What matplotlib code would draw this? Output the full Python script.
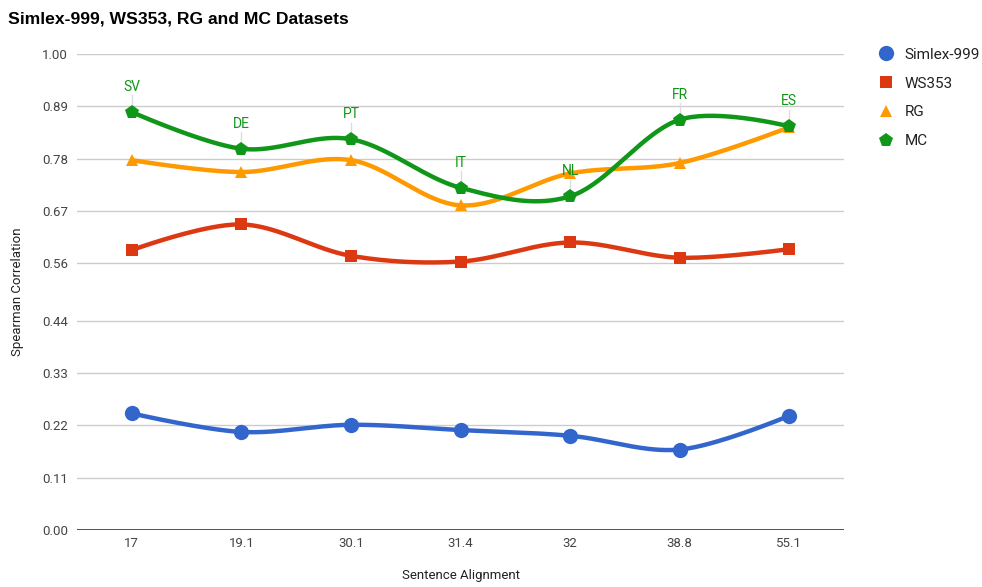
import numpy as np
import matplotlib
matplotlib.use("Agg")
import matplotlib.pyplot as plt
from matplotlib.lines import Line2D

plt.rcParams['font.family'] = ['Roboto', 'DejaVu Sans']

# Data
alignment = ["17", "19.1", "30.1", "31.4", "32", "38.8", "55.1"]
languages = ["SV", "DE", "PT", "IT", "NL", "FR", "ES"]
simlex = [0.245, 0.206, 0.221, 0.210, 0.198, 0.169, 0.240]
ws353 = [0.588, 0.642, 0.576, 0.564, 0.604, 0.572, 0.590]
rg = [0.777, 0.752, 0.777, 0.682, 0.749, 0.771, 0.846]
mc = [0.878, 0.801, 0.821, 0.719, 0.701, 0.862, 0.848]
yticks = [0.00, 0.11, 0.22, 0.33, 0.44, 0.56, 0.67, 0.78, 0.89, 1.00]


def smooth(ys, steps=40):
    """Cubic Bezier smoothing through every point (cardinal spline)."""
    ys = np.asarray(ys, float)
    xs = np.arange(len(ys), dtype=float)
    n = len(ys)
    tx, ty = [], []
    for i in range(n - 1):
        p0 = np.array([xs[i], ys[i]])
        p3 = np.array([xs[i + 1], ys[i + 1]])
        if i == 0:
            c1 = p0
        else:
            c1 = p0 + (np.array([xs[i + 1], ys[i + 1]]) - np.array([xs[i - 1], ys[i - 1]])) / 6.0
        if i + 1 == n - 1:
            c2 = p3
        else:
            c2 = p3 - (np.array([xs[i + 2], ys[i + 2]]) - np.array([xs[i], ys[i]])) / 6.0
        t = np.linspace(0, 1, steps)[:, None]
        pts = ((1 - t) ** 3) * p0 + 3 * ((1 - t) ** 2) * t * c1 + 3 * (1 - t) * t ** 2 * c2 + t ** 3 * p3
        if i > 0:
            pts = pts[1:]
        tx.extend(pts[:, 0])
        ty.extend(pts[:, 1])
    return np.array(tx), np.array(ty)


fig = plt.figure(figsize=(9.82, 5.87), dpi=100)
ax = fig.add_axes([0.0784, 0.0971, 0.7811, 0.8109])

series = [
    ("Simlex-999", simlex, "#3366CC", "o", 11),
    ("WS353", ws353, "#DC3912", "s", 8),
    ("RG", rg, "#FF9900", "^", 8.5),
    ("MC", mc, "#109618", "p", 10),
]

x = np.arange(len(alignment))
for name, vals, color, marker, ms in series:
    sx, sy = smooth(vals)
    ax.plot(sx, sy, color=color, lw=3.2, solid_capstyle='round', zorder=3)
    ax.plot(x, vals, linestyle='none', marker=marker, ms=ms, color=color,
            markeredgewidth=0, zorder=4)

# Language annotations above the MC points
for xi, yi, lab in zip(x, mc, languages):
    ax.plot([xi, xi], [yi, yi + 0.035], color="#dddddd", lw=1, zorder=2)
    ax.text(xi, yi + 0.038, lab, ha='center', va='bottom', color="#109618",
            fontsize=10, zorder=5)

ax.set_xlim(-0.5, len(alignment) - 0.5)
ax.set_ylim(0, 1.0)
ax.set_xticks(x)
ax.set_xticklabels(alignment)
ax.set_yticks(yticks)
ax.set_yticklabels([f"{v:.2f}" for v in yticks])
ax.tick_params(length=0, colors="#444444", labelsize=9.5)
ax.tick_params(axis='x', pad=5)
ax.tick_params(axis='y', pad=6.5)
for v in yticks[1:]:
    ax.axhline(v, color="#cccccc", lw=1, zorder=1)
ax.axhline(0, color="#333333", lw=1.2, zorder=2)
for s in ax.spines.values():
    s.set_visible(False)

ax.set_xlabel("Sentence Alignment", fontsize=9.5, color="#222222")
ax.set_ylabel("Spearman Correlation", fontsize=9.5, color="#222222")
ax.xaxis.set_label_coords(0.5, -0.082)
ax.yaxis.set_label_coords(-0.078, 0.5)
ax.yaxis.label.set_va('center')

fig.text(0.008, 0.968, "Simlex-999, WS353, RG and MC Datasets", fontsize=12.6,
         fontweight='bold', family=['Liberation Sans', 'DejaVu Sans'],
         ha='left', va='center', color="#000000")

handles = [Line2D([], [], linestyle='none', marker=m, ms=ms, color=c,
                  markeredgewidth=0, label=n) for n, _, c, m, ms in series]
fig.legend(handles=handles, loc='upper left', bbox_to_anchor=(0.879, 0.942),
           frameon=False, fontsize=11, labelcolor="#222222",
           handletextpad=0.6, labelspacing=0.97, handlelength=1.2)

fig.savefig("out.png", dpi=100)
